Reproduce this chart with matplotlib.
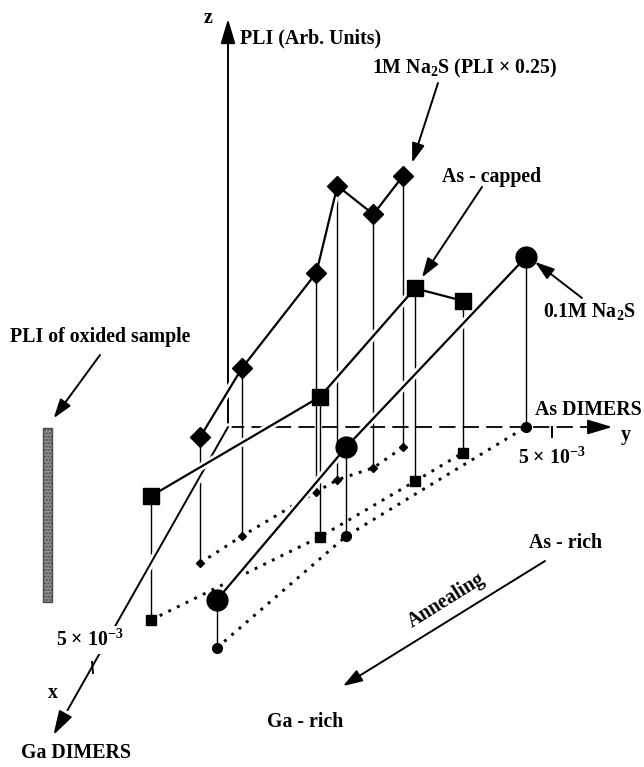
import numpy as np
import matplotlib
matplotlib.use('Agg')
import matplotlib.pyplot as plt
import matplotlib.patheffects as pe

# ---------------- data ----------------
# floor coordinates: x = Ga dimers, y = As dimers (units of 1e-3); z = PLI (arb. units)
dia_x = [2.83, 2.27, 1.35, 1.10, 0.85, 0.42]      # 1M Na2S (PLI x 0.25)
dia_y = [0.76, 1.17, 1.93, 2.15, 2.60, 2.88]
dia_z = [4.20, 5.60, 7.30, 9.80, 8.45, 9.05]

sq_x = [4.02, 2.29, 1.13, 0.54]                   # As-capped
sq_y = [0.50, 2.38, 3.36, 3.85]
sq_z = [4.13, 4.67, 6.43, 5.07]

ci_x = [4.60, 2.27, 0.00]                         # 0.1M Na2S
ci_y = [1.76, 2.78, 4.60]
ci_z = [1.60, 2.97, 5.67]

oxide_x, oxide_y, oxide_z = 3.65, -1.25, 5.8     # PLI of oxided sample

tick_val = 5.0                                     # 5 x 10^-3
axis_x_len, axis_y_len, axis_z_len = 6.42, 5.93, 13.6

# ---------------- style ----------------
plt.rcParams['font.family'] = ['Liberation Serif', 'DejaVu Serif']
plt.rcParams['font.weight'] = 'bold'
plt.rcParams['mathtext.fontset'] = 'custom'
plt.rcParams['mathtext.rm'] = 'Liberation Serif:bold'
plt.rcParams['mathtext.bf'] = 'Liberation Serif:bold'
plt.rcParams['mathtext.it'] = 'Liberation Serif:bold:italic'
plt.rcParams['mathtext.default'] = 'rm'

FS = 14.3

# oblique projection of (x, y, z) onto the page
O = np.array([228.0, 427.0])
EX = np.array([-27.2, 48.0])
EY = np.array([64.8, 0.0])
EZ = np.array([0.0, -30.0])


def proj(x, y, z=0.0):
    x = np.asarray(x, float); y = np.asarray(y, float); z = np.asarray(z, float)
    px = O[0] + EX[0] * x + EY[0] * y + EZ[0] * z
    py = O[1] + EX[1] * x + EY[1] * y + EZ[1] * z
    return px, py


fig = plt.figure(figsize=(6.44, 7.67), dpi=100)
ax = fig.add_axes([0, 0, 1, 1])
ax.set_xlim(0, 644)
ax.set_ylim(767, 0)
ax.axis('off')

halo = lambda lw: [pe.Stroke(linewidth=lw + 4, foreground='white'), pe.Normal()]

# ---------------- axes ----------------
ox, oy = proj(0, 0, 0)
zx, zy = proj(0, 0, axis_z_len)
xx, xy_ = proj(axis_x_len, 0, 0)
yx, yy = proj(0, axis_y_len, 0)

arrow_axis = dict(arrowstyle='-|>,head_length=1.0,head_width=0.3', mutation_scale=15,
                  color='k', lw=1.4, shrinkA=0, shrinkB=0)
ax.annotate('', xy=(zx, zy), xytext=(ox, oy), arrowprops=arrow_axis, zorder=3)
ax.plot([ox, yx - 15], [oy, yy], color='k', lw=1.3, linestyle=(0, (9, 4)), zorder=1)
ax.annotate('', xy=(yx, yy), xytext=(yx - 16, yy),
            arrowprops=arrow_axis, zorder=3)
xa = ax.annotate('', xy=(xx, xy_), xytext=(ox, oy), arrowprops=arrow_axis, zorder=3)
xa.arrow_patch.set_path_effects(halo(1.4))

# ticks
tx, ty = proj(tick_val, 0, 0)
ax.plot([tx, tx + 1], [ty - 5, ty + 6], color='k', lw=1.4, zorder=3)
ux, uy = proj(0, tick_val, 0)
ax.plot([ux, ux], [uy, uy + 10], color='k', lw=1.4, zorder=3)

# ---------------- series ----------------
series = [
    (dia_x, dia_y, dia_z, 'D', 10.5, 3.8),
    (sq_x, sq_y, sq_z, 's', 11.5, 7.5),
    (ci_x, ci_y, ci_z, 'o', 15.0, 7.0),
]
for sx, sy, sz, mk, ms_top, ms_floor in series:
    fx, fy = proj(sx, sy, 0)
    px, py = proj(sx, sy, sz)
    # drop lines
    ax.vlines(fx, py, fy, color='k', lw=1.0, zorder=2)
    # floor projections (dotted)
    ax.plot(fx, fy, color='k', lw=2.1, linestyle=(0, (1, 2.3)), zorder=2)
    ax.plot(fx, fy, linestyle='none', marker=mk, ms=ms_floor, color='k', zorder=2.5)
    # elevated curve
    ax.plot(px, py, color='k', lw=1.6, zorder=4, path_effects=halo(1.6))
    ax.plot(px, py, linestyle='none', marker=mk, ms=ms_top, color='k', zorder=5)

# oxide reference bar
bx, by = proj(oxide_x, oxide_y, 0)
tx2, ty2 = proj(oxide_x, oxide_y, oxide_z)
ax.bar(bx, by - ty2, bottom=ty2, width=9.5, color='#8e8e8e', edgecolor='#4a4a4a',
       lw=1.0, hatch='.....', zorder=2)

# ---------------- labels & annotation arrows ----------------
arr = dict(arrowstyle='-|>,head_length=0.9,head_width=0.3', mutation_scale=13,
           color='k', lw=1.4, shrinkA=0, shrinkB=0)

d6x, d6y = proj(dia_x[-1], dia_y[-1], dia_z[-1])
s3x, s3y = proj(sq_x[2], sq_y[2], sq_z[2])
c3x, c3y = proj(ci_x[-1], ci_y[-1], ci_z[-1])

ax.annotate('', xy=(d6x + 9, d6y - 13), xytext=(438, 83), arrowprops=arr, zorder=6)
ax.annotate('', xy=(s3x + 7, s3y - 11), xytext=(482, 187), arrowprops=arr, zorder=6)
ax.annotate('', xy=(c3x + 9, c3y + 5), xytext=(582, 298), arrowprops=arr, zorder=6)
ax.annotate('', xy=(bx + 6, ty2 - 10), xytext=(100, 355), arrowprops=arr, zorder=6)
ax.annotate('', xy=(343, 686), xytext=(545, 561), arrowprops=arr, zorder=6)

txt = dict(fontsize=FS, fontweight='bold', color='k', zorder=7)
ax.text(208, 18, 'z', ha='center', va='center', **txt)
ax.text(240, 38, 'PLI (Arb. Units)', ha='left', va='center', **txt)
ax.text(372, 68, r'1M Na$_2$S (PLI × 0.25)', ha='left', va='center', **txt)
ax.text(442, 177, 'As - capped', ha='left', va='center', **txt)
ax.text(543, 312, r'0.1M Na$_2$S', ha='left', va='center', **txt)
ax.text(535, 410, 'As DIMERS', ha='left', va='center', **txt)
ax.text(626, 435, 'y', ha='center', va='center', **txt)
ax.text(552, 458, r'5 × 10$^{-3}$', ha='center', va='center', **txt)
ax.text(566, 543, 'As - rich', ha='center', va='center', **txt)
ax.text(446, 600, 'Annealing', ha='center', va='center', rotation=32,
        rotation_mode='anchor', **txt)
ax.text(305, 722, 'Ga - rich', ha='center', va='center', **txt)
ax.text(53, 693, 'x', ha='center', va='center', **txt)
ax.text(76, 753, 'Ga DIMERS', ha='center', va='center', **txt)
ax.text(90, 640, r'5 × 10$^{-3}$', ha='center', va='center',
        bbox=dict(boxstyle='square,pad=0.15', fc='white', ec='none'), **txt)
ax.text(10, 337, 'PLI of oxided sample', ha='left', va='center', **txt)

fig.savefig('out.png', dpi=100)
